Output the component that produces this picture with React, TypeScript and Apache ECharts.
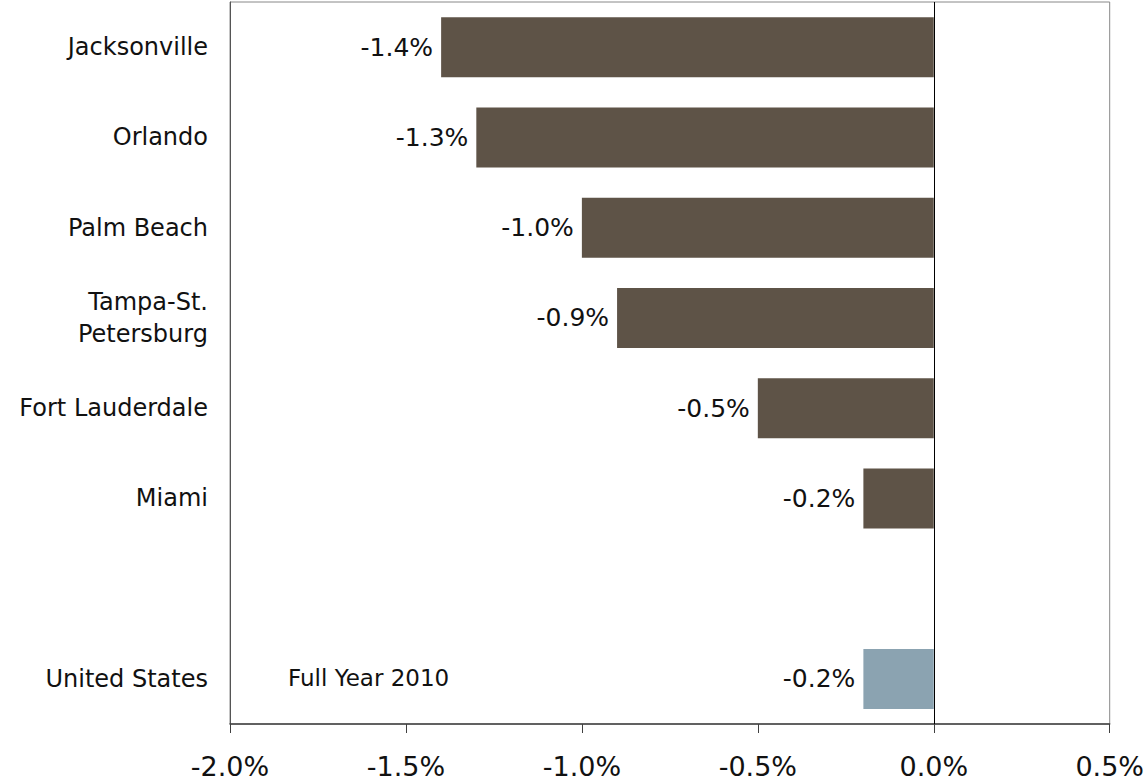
import React, { useEffect, useRef } from "react";
import * as echarts from "echarts";

const categories = [
  "Jacksonville",
  "Orlando",
  "Palm Beach",
  "Tampa-St.\nPetersburg",
  "Fort Lauderdale",
  "Miami",
  "",
  "United States",
];
const values: (number | null)[] = [-1.4, -1.3, -1.0, -0.9, -0.5, -0.2, null, -0.2];
const highlightCategory = "United States";
const annotationText = "Full Year 2010";
const xTicks = { min: -2.0, max: 0.5, interval: 0.5 };

const BROWN = "#5E5347";
const BLUE = "#8BA3B1";
const FONT = "DejaVu Sans";

export default function App() {
  const ref = useRef<HTMLDivElement>(null);
  useEffect(() => {
    document.body.style.margin = "0";
    const chart = echarts.init(ref.current!, undefined, { renderer: "svg" });
    const option = {
      animation: false,
      textStyle: { fontFamily: FONT },
      grid: {
        left: 230,
        right: 37,
        top: 2,
        bottom: 58,
        show: true,
        borderColor: "#888888",
        borderWidth: 1,
        backgroundColor: "transparent",
      },
      xAxis: {
        type: "value",
        min: xTicks.min,
        max: xTicks.max,
        interval: xTicks.interval,
        splitLine: { show: false },
        axisLine: { show: true, onZero: false, lineStyle: { color: "#404040", width: 1.5 } },
        axisTick: { show: true, length: 9, lineStyle: { color: "#404040" } },
        axisLabel: {
          fontFamily: FONT,
          fontSize: 27,
          color: "#111",
          margin: 29,
          formatter: (v: number) => v.toFixed(1) + "%",
        },
      },
      yAxis: {
        type: "category",
        inverse: true,
        data: categories,
        axisLine: { show: true, onZero: false, lineStyle: { color: "#555" } },
        axisTick: { show: false },
        axisLabel: {
          fontFamily: FONT,
          fontSize: 24,
          color: "#111",
          margin: 22,
          lineHeight: 32,
        },
      },
      series: [
        {
          type: "bar",
          barWidth: 60,
          data: values.map((v, i) => ({
            value: v,
            itemStyle: { color: categories[i] === highlightCategory ? BLUE : BROWN },
          })),
          label: {
            show: true,
            position: "left",
            distance: 8,
            fontFamily: FONT,
            fontSize: 25,
            color: "#111",
            formatter: (p: any) => (p.value == null ? "" : p.value.toFixed(1) + "%"),
          },
          markLine: {
            silent: true,
            symbol: "none",
            label: { show: false },
            lineStyle: { color: "#000", width: 1, type: "solid" },
            data: [{ xAxis: 0 }],
          },
        },
      ],
      graphic: [
        {
          type: "text",
          left: 288,
          top: 666,
          style: { text: annotationText, fontFamily: FONT, fontSize: 23, fill: "#111" },
        },
      ],
    };
    chart.setOption(option);
    return () => chart.dispose();
  }, []);
  return <div ref={ref} style={{ width: 1147, height: 782 }} />;
}
